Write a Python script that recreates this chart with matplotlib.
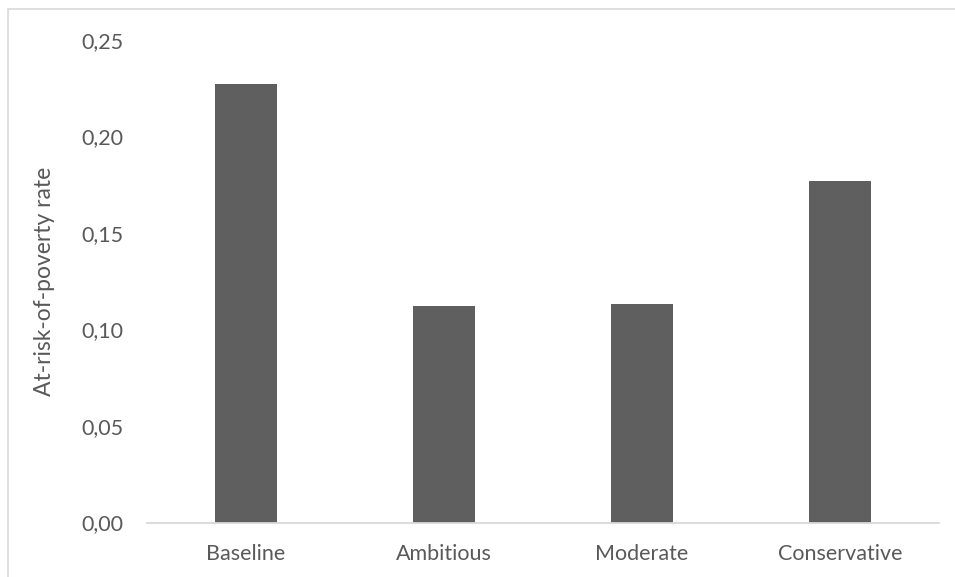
import matplotlib
matplotlib.use("Agg")
import matplotlib.pyplot as plt
from matplotlib.patches import Rectangle
from matplotlib.ticker import FuncFormatter, MultipleLocator

# Poverty rate per scenario
scenarios = ["Baseline", "Ambitious", "Moderate", "Conservative"]
poverty_rate = [0.227, 0.112, 0.113, 0.177]

text_color = "#595959"
bar_color = "#5f5f5f"
line_color = "#d9d9d9"

plt.rcParams["font.family"] = ["Lato", "DejaVu Sans"]

fig = plt.figure(figsize=(9.55, 5.77), dpi=100)
ax = fig.add_axes([147 / 955, 1 - 522.5 / 577, (939 - 147) / 955, (522.5 - 40) / 577])

x = range(len(scenarios))
ax.bar(x, poverty_rate, width=0.313, color=bar_color, zorder=2)

ax.set_xlim(-0.5, len(scenarios) - 0.5)
ax.set_ylim(0, 0.25)
ax.yaxis.set_major_locator(MultipleLocator(0.05))
ax.yaxis.set_major_formatter(FuncFormatter(lambda v, _: f"{v:.2f}".replace(".", ",")))

ax.set_xticks(list(x))
ax.set_xticklabels(scenarios)

for side in ("top", "right", "left"):
    ax.spines[side].set_visible(False)
ax.spines["bottom"].set_color(line_color)
ax.spines["bottom"].set_linewidth(1.3)

ax.tick_params(axis="both", length=0, labelsize=15.5, colors=text_color)
ax.tick_params(axis="y", pad=17)
ax.tick_params(axis="x", pad=15.5)

ax.set_ylabel("At-risk-of-poverty rate", fontsize=16.5, color=text_color, labelpad=19)

# Light outer chart frame
fig.patches.append(Rectangle((8 / 955, -0.1), 1.2, 1 - 8.5 / 577 + 0.1,
                             transform=fig.transFigure, fill=False,
                             edgecolor=line_color, linewidth=1.2))

fig.savefig("out.png", dpi=100)
